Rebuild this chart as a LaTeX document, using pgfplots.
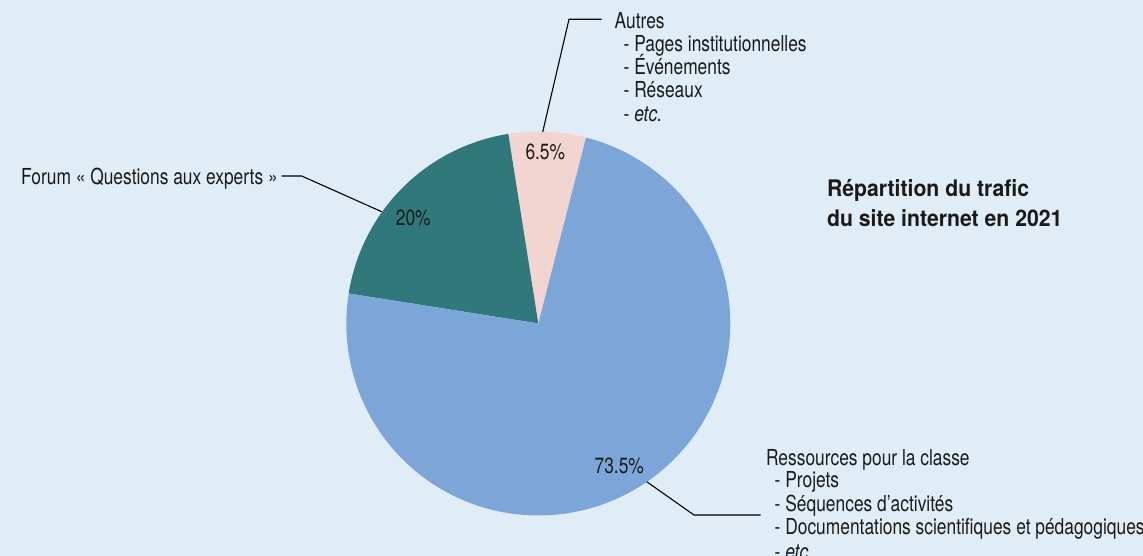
\documentclass[border=0pt]{standalone}
\usepackage{fontspec}
\setmainfont{TeX Gyre Heros}[FakeStretch=0.79]
\newfontfamily\titlefont{TeX Gyre Heros}[FakeStretch=0.93]
\usepackage{pgfplots}
\pgfplotsset{compat=1.18}

\definecolor{bgc}{HTML}{E0EDF6}
\definecolor{blueslice}{HTML}{7CA6D8}
\definecolor{tealslice}{HTML}{31787C}
\definecolor{pinkslice}{HTML}{F2D5D0}
\definecolor{txt}{HTML}{1A1A1A}

% parts of the traffic, in percent
\def\vAutres{6.5}
\def\vForum{20}
\def\vRessources{73.5}

% pie geometry, in picture pixels
\def\cx{538.3}
\def\cy{323.5}
\def\rad{192}
\pgfmathsetmacro\aA{75.6}
\pgfmathsetmacro\aB{\aA+3.6*\vAutres}
\pgfmathsetmacro\aC{\aB+3.6*\vForum}
\pgfmathsetmacro\aD{\aC+3.6*\vRessources}

\tikzset{
  lbl/.style={anchor=base west, inner sep=0pt, text=txt,
    font=\fontsize{11bp}{12bp}\selectfont},
  pct/.style={anchor=center, inner sep=0pt, text=txt,
    font=\fontsize{11bp}{12bp}\selectfont},
  lead/.style={draw=black, line width=0.55bp},
}

\begin{document}
\begin{tikzpicture}
\path[use as bounding box] (0,0) rectangle (571.5bp,278bp);
\fill[bgc] (0,0) rectangle (571.5bp,278bp);
\begin{axis}[
    at={(0,0)}, anchor=south west,
    scale only axis,
    width=571.5bp, height=278bp,
    xmin=0, xmax=1143, ymin=0, ymax=556,
    y dir=reverse,
    axis lines=none,
    clip=false,
]
% slices
\addplot[fill=pinkslice, draw=none, domain=\aA:\aB, samples=40, variable=\t]
  ({\cx+\rad*cos(\t)}, {\cy-\rad*sin(\t)}) -- (axis cs:\cx,\cy) -- cycle;
\addplot[fill=tealslice, draw=none, domain=\aB:\aC, samples=60, variable=\t]
  ({\cx+\rad*cos(\t)}, {\cy-\rad*sin(\t)}) -- (axis cs:\cx,\cy) -- cycle;
\addplot[fill=blueslice, draw=none, domain=\aC:\aD, samples=160, variable=\t]
  ({\cx+\rad*cos(\t)}, {\cy-\rad*sin(\t)}) -- (axis cs:\cx,\cy) -- cycle;

% percentages
\node[pct] at (axis cs:545.3,152.3) {\vAutres\%};
\node[pct] at (axis cs:413.3,218.3) {\vForum\%};
\node[pct] at (axis cs:619.3,465.7) {\vRessources\%};

% leader lines
\draw[lead] (axis cs:542.7,132) -- (axis cs:569,19.3) -- (axis cs:601.7,19.3);
\draw[lead] (axis cs:281.7,176) -- (axis cs:301.7,176) -- (axis cs:381.7,211.7);
\draw[lead] (axis cs:646.7,481.7) -- (axis cs:694,515) -- (axis cs:760.7,515);

% Autres
\node[lbl] at (axis cs:614.3,28.3) {Autres};
\node[lbl] at (axis cs:623.3,51.3) {- Pages institutionnelles};
\node[lbl] at (axis cs:623.3,74.6) {- Événements};
\node[lbl] at (axis cs:623.3,97.9) {- Réseaux};
\node[lbl] at (axis cs:623.3,121.2) {- \textit{etc.}};

% Forum
\node[lbl] at (axis cs:20.7,184.3) {Forum « Questions aux experts »};

% Ressources
\node[lbl] at (axis cs:765.7,465) {Ressources pour la classe};
\node[lbl] at (axis cs:774.3,487.7) {- Projets};
\node[lbl] at (axis cs:774.3,511) {- Séquences d’activités};
\node[lbl] at (axis cs:774.3,534.3) {- Documentations scientifiques et pédagogiques};
\node[lbl] at (axis cs:774.3,559.5) {- \textit{etc.}};

% title
\node[anchor=base west, inner sep=0pt, text=txt,
  font=\titlefont\bfseries\fontsize{11.4bp}{13bp}\selectfont]
  at (axis cs:826.7,196) {Répartition du trafic};
\node[anchor=base west, inner sep=0pt, text=txt,
  font=\titlefont\bfseries\fontsize{11.4bp}{13bp}\selectfont]
  at (axis cs:826.7,226.7) {du site internet en 2021};
\end{axis}
\end{tikzpicture}
\end{document}
